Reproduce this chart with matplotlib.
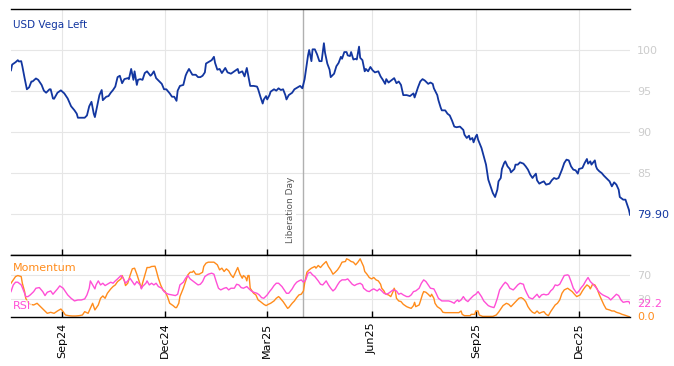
"""USD Vega Left with Momentum / RSI panel."""

import matplotlib
matplotlib.use("Agg")
import matplotlib.pyplot as plt
import matplotlib.dates as mdates
import pandas as pd

START = pd.Timestamp("2024-07-18")
LIBERATION_DAY = pd.Timestamp("2025-04-02")

# day offsets from START
vega_days = [
    0, 1, 4, 6, 7, 9, 10, 12, 14, 16, 18, 19, 22, 24, 27, 29, 31, 34, 35, 37,
    38, 41, 44, 47, 50, 53, 56, 58, 59, 62, 65, 67, 69, 71, 73, 74, 76, 78, 80, 81,
    84, 86, 88, 90, 92, 94, 96, 98, 100, 103, 104, 106, 108, 109, 111, 112, 114, 116, 118, 120,
    123, 124, 126, 128, 131, 133, 135, 137, 140, 142, 144, 146, 147, 149, 152, 154, 155, 157, 160, 163,
    165, 167, 169, 171, 172, 174, 177, 179, 180, 182, 184, 186, 189, 191, 194, 197, 200, 201, 204, 206,
    208, 210, 211, 214, 217, 218, 220, 222, 223, 225, 226, 228, 229, 232, 234, 236, 238, 240, 242, 243,
    245, 248, 250, 253, 255, 257, 259, 262, 263, 265, 266, 268, 270, 272, 274, 276, 277, 279, 281, 282,
    285, 287, 289, 291, 292, 294, 296, 297, 299, 300, 302, 304, 305, 307, 308, 310, 312, 313, 315, 317,
    319, 321, 324, 326, 328, 330, 331, 333, 336, 338, 340, 342, 344, 346, 349, 352, 353, 355, 356, 359,
    361, 363, 365, 368, 370, 372, 373, 376, 377, 379, 380, 383, 385, 387, 389, 391, 393, 396, 399, 400,
    402, 404, 405, 407, 408, 410, 411, 412, 415, 417, 419, 421, 423, 425, 427, 429, 430, 432, 433, 435,
    436, 438, 440, 441, 444, 445, 447, 449, 452, 454, 456, 458, 460, 461, 463, 464, 466, 468, 470, 472,
    475, 477, 479, 481, 483, 486, 488, 490, 492, 494, 496, 498, 500, 501, 504, 506, 508, 509, 511, 512,
    515, 516, 517, 519, 521, 523, 525, 528, 530, 532, 534, 536, 537, 540, 542, 543, 545, 546,
]
vega_vals = [
    97.52, 98.22, 98.51, 98.76, 98.60, 98.64, 98.02, 96.57, 95.21, 95.45, 96.16, 96.16, 96.53, 96.36, 95.74, 95.04, 94.79, 95.21, 95.21, 94.09,
    94.05, 94.79, 95.08, 94.71, 94.09, 93.14, 92.64, 92.23, 91.74, 91.74, 91.74, 92.02, 93.14, 93.68, 92.23, 91.82, 93.14, 94.50, 95.12, 93.88,
    94.30, 94.38, 94.79, 95.12, 95.54, 96.69, 96.86, 95.95, 96.45, 96.57, 96.45, 97.69, 96.36, 97.40, 95.74, 96.36, 96.45, 96.36, 97.19, 97.40,
    96.86, 96.98, 97.40, 96.57, 96.16, 95.87, 95.21, 95.21, 94.71, 94.30, 94.30, 93.80, 95.04, 95.62, 95.74, 96.86, 97.19, 97.69, 96.98, 96.98,
    96.69, 96.69, 96.86, 97.27, 98.35, 98.51, 98.76, 99.17, 98.43, 97.60, 97.69, 97.19, 97.81, 97.27, 97.11, 97.40, 97.69, 97.19, 97.40, 96.78,
    97.81, 96.36, 95.62, 95.62, 95.54, 95.21, 94.30, 93.47, 93.97, 94.38, 93.97, 94.50, 94.92, 95.21, 95.04, 95.33, 95.12, 95.21, 94.50, 93.97,
    94.50, 94.79, 95.21, 95.45, 95.62, 95.33, 96.45, 99.34, 100.00, 98.64, 100.08, 100.08, 99.46, 98.64, 98.64, 100.83, 99.67, 98.35, 97.60, 96.69,
    97.11, 98.02, 98.43, 99.17, 98.93, 99.75, 99.75, 99.34, 99.26, 99.75, 98.84, 98.93, 98.84, 100.41, 99.05, 98.76, 97.40, 97.69, 97.40, 97.93,
    97.52, 97.27, 97.40, 96.78, 96.36, 95.87, 96.45, 96.03, 96.36, 96.57, 95.95, 96.16, 95.74, 94.50, 94.50, 94.38, 94.50, 94.71, 94.21, 95.45,
    96.16, 96.45, 96.28, 95.87, 96.03, 95.87, 95.33, 94.50, 93.88, 92.98, 92.64, 92.64, 92.23, 92.02, 91.40, 90.66, 90.58, 90.66, 90.25, 89.67,
    89.27, 89.55, 89.07, 89.27, 88.74, 89.47, 89.67, 89.07, 88.05, 87.03, 86.02, 84.19, 83.37, 82.56, 82.07, 82.97, 83.98, 84.39, 85.49, 86.22,
    86.42, 85.81, 85.49, 85.08, 85.49, 86.02, 86.02, 86.30, 86.14, 85.81, 85.41, 84.80, 84.39, 84.59, 84.92, 84.11, 83.70, 83.86, 83.98, 83.58,
    83.70, 84.11, 84.39, 84.27, 84.39, 85.41, 86.22, 86.63, 86.54, 85.81, 85.41, 85.33, 84.92, 85.49, 85.61, 86.22, 86.71, 86.14, 86.42, 86.02,
    86.54, 85.81, 85.49, 85.20, 85.00, 84.67, 84.39, 83.98, 83.37, 83.86, 83.58, 82.97, 82.07, 81.75, 81.75, 81.34, 80.53, 79.90,
]

mom_days = [
    0, 2, 4, 6, 9, 10, 12, 13, 15, 17, 20, 23, 26, 29, 32, 35, 38, 41, 44, 46,
    48, 51, 54, 57, 60, 63, 65, 68, 70, 72, 74, 77, 79, 81, 83, 85, 88, 90, 92, 94,
    97, 98, 100, 101, 103, 105, 107, 109, 111, 114, 115, 116, 118, 120, 122, 124, 127, 128, 130, 132,
    134, 136, 138, 140, 143, 145, 146, 148, 149, 152, 154, 156, 158, 160, 161, 163, 166, 169, 170, 172,
    174, 177, 179, 182, 184, 186, 188, 190, 192, 194, 196, 197, 199, 200, 202, 204, 205, 207, 208, 209,
    210, 211, 214, 216, 218, 220, 223, 225, 227, 229, 232, 234, 236, 237, 240, 242, 244, 245, 248, 250,
    252, 254, 256, 258, 259, 261, 263, 265, 268, 269, 271, 273, 275, 278, 280, 282, 284, 286, 288, 290,
    292, 295, 296, 298, 300, 302, 304, 306, 308, 309, 311, 312, 314, 316, 318, 320, 322, 324, 326, 327,
    329, 330, 331, 333, 335, 337, 338, 339, 340, 342, 344, 346, 349, 351, 353, 355, 356, 357, 360, 361,
    363, 364, 366, 368, 370, 371, 373, 374, 376, 379, 381, 383, 386, 389, 392, 395, 397, 398, 400, 402,
    405, 406, 409, 410, 412, 413, 416, 419, 422, 425, 428, 430, 432, 434, 437, 439, 441, 443, 446, 448,
    450, 452, 454, 456, 458, 460, 462, 464, 466, 468, 470, 472, 474, 476, 478, 480, 482, 484, 486, 488,
    491, 493, 495, 497, 499, 502, 504, 506, 508, 510, 511, 513, 515, 517, 519, 521, 523, 525, 528, 530,
    532, 534, 537, 539, 541, 543, 546,
]
mom_vals = [
    56.1, 61.7, 67.2, 68.9, 67.2, 56.1, 42.2, 31.1, 24.4, 21.1, 20.0, 22.8, 17.2, 11.7, 6.1, 7.8, 6.1, 10.0, 13.3, 8.9,
    3.3, 2.2, 1.7, 1.7, 2.2, 3.3, 8.9, 6.1, 14.4, 22.8, 11.7, 20.0, 31.1, 35.0, 31.1, 39.4, 46.7, 50.6, 53.3, 58.9,
    63.3, 68.9, 60.0, 52.2, 56.1, 68.9, 80.0, 81.1, 71.1, 53.3, 47.8, 56.1, 68.9, 82.2, 82.2, 83.9, 84.4, 78.3, 64.4, 53.3,
    45.0, 42.2, 33.9, 22.8, 18.9, 15.6, 15.6, 22.8, 33.9, 47.8, 58.9, 70.0, 74.4, 74.4, 76.7, 71.1, 71.1, 74.4, 83.9, 89.4,
    91.1, 91.1, 91.1, 86.7, 78.3, 81.1, 75.6, 80.0, 76.7, 70.0, 65.6, 70.0, 78.3, 82.2, 71.1, 64.4, 68.9, 65.6, 60.0, 68.9,
    68.9, 47.8, 39.4, 36.7, 28.3, 25.6, 21.1, 18.9, 21.1, 22.8, 26.7, 31.1, 33.9, 32.2, 25.6, 20.0, 14.4, 15.6, 22.8, 26.7,
    32.2, 36.7, 37.8, 43.3, 56.1, 74.4, 78.3, 81.1, 83.9, 81.1, 85.6, 82.2, 86.7, 92.2, 83.9, 78.3, 71.1, 74.4, 78.3, 83.9,
    91.1, 92.2, 96.7, 95.0, 92.2, 91.1, 86.7, 91.1, 96.7, 92.2, 83.9, 75.6, 71.1, 65.6, 63.3, 65.6, 61.7, 60.0, 54.4, 47.8,
    43.3, 39.4, 37.8, 36.7, 33.9, 42.2, 47.8, 43.3, 31.1, 26.7, 25.6, 21.1, 17.2, 15.6, 14.4, 18.9, 24.4, 17.2, 20.0, 25.6,
    37.8, 42.2, 41.1, 37.8, 33.9, 37.8, 31.1, 22.8, 17.2, 13.3, 7.8, 7.2, 7.2, 7.2, 7.2, 7.2, 10.0, 4.4, 2.2, 2.2,
    2.2, 4.4, 4.4, 10.0, 10.0, 3.3, 1.0, 1.0, 1.0, 1.0, 3.3, 7.8, 13.3, 18.9, 22.8, 21.1, 17.2, 21.1, 26.7, 31.1,
    32.2, 30.0, 25.6, 17.2, 11.7, 7.8, 6.1, 10.0, 6.1, 7.8, 8.9, 4.4, 2.2, 8.9, 14.4, 20.0, 22.8, 28.3, 39.4, 45.0,
    47.8, 45.0, 42.2, 37.8, 33.9, 36.7, 43.3, 48.9, 53.3, 50.6, 46.7, 54.4, 53.3, 46.7, 36.7, 28.3, 20.0, 13.3, 11.7, 10.0,
    10.0, 7.8, 6.1, 4.4, 3.3, 2.0, 0.0,
]

rsi_days = [
    0, 2, 4, 6, 9, 10, 12, 13, 15, 17, 20, 22, 25, 28, 30, 32, 35, 37, 39, 41,
    43, 46, 48, 50, 53, 56, 59, 62, 65, 67, 69, 70, 72, 74, 75, 77, 79, 81, 83, 85,
    88, 90, 92, 94, 97, 99, 101, 103, 105, 107, 109, 111, 114, 115, 116, 119, 120, 122, 124, 126,
    128, 130, 133, 135, 137, 139, 142, 145, 147, 149, 152, 154, 156, 158, 161, 163, 165, 167, 169, 171,
    174, 177, 179, 181, 183, 185, 188, 190, 192, 194, 197, 199, 201, 203, 205, 208, 210, 212, 214, 217,
    219, 221, 223, 226, 228, 230, 232, 234, 236, 239, 241, 243, 245, 248, 250, 252, 254, 256, 258, 260,
    262, 264, 266, 268, 271, 273, 275, 277, 278, 280, 282, 284, 286, 288, 290, 292, 295, 297, 299, 301,
    303, 305, 308, 310, 311, 314, 316, 318, 320, 323, 325, 327, 329, 331, 333, 335, 337, 340, 342, 344,
    346, 349, 351, 353, 355, 357, 360, 362, 364, 366, 368, 370, 373, 375, 377, 380, 383, 386, 388, 391,
    392, 394, 395, 397, 399, 401, 403, 405, 408, 410, 412, 413, 415, 417, 419, 421, 423, 426, 427, 429,
    431, 434, 436, 438, 440, 443, 445, 447, 449, 452, 453, 455, 457, 460, 462, 464, 466, 468, 470, 472,
    474, 476, 478, 480, 482, 484, 486, 488, 491, 492, 494, 496, 499, 501, 503, 505, 507, 509, 511, 514,
    516, 518, 520, 522, 525, 527, 529, 531, 534, 536, 538, 540, 543, 545, 546,
]
rsi_vals = [
    42.2, 53.3, 57.8, 57.8, 53.3, 48.9, 39.4, 33.9, 33.9, 36.7, 42.2, 47.8, 48.9, 42.2, 35.6, 41.1, 43.3, 37.8, 42.2, 46.7,
    51.7, 47.8, 42.2, 36.7, 31.1, 26.7, 28.3, 28.3, 30.0, 36.7, 47.8, 60.0, 53.3, 46.7, 53.3, 60.0, 53.3, 56.1, 52.2, 54.4,
    57.8, 56.1, 60.0, 63.3, 68.9, 64.4, 56.1, 60.0, 64.4, 58.9, 53.3, 58.9, 53.3, 46.7, 50.6, 56.1, 60.0, 53.3, 56.1, 53.3,
    56.1, 50.6, 47.8, 42.2, 39.4, 37.8, 36.7, 35.6, 37.8, 53.3, 57.8, 64.4, 68.9, 63.3, 58.9, 56.1, 53.3, 54.4, 58.9, 67.2,
    71.1, 72.8, 71.1, 58.9, 47.8, 45.0, 47.8, 48.9, 45.0, 47.8, 47.8, 54.4, 53.3, 48.9, 47.8, 50.6, 46.7, 43.3, 41.1, 39.4,
    36.7, 32.2, 31.1, 36.7, 42.2, 46.7, 52.2, 56.1, 56.1, 50.6, 45.0, 39.4, 39.4, 46.7, 53.3, 57.8, 60.0, 61.7, 57.8, 61.7,
    72.8, 74.4, 70.0, 67.2, 60.0, 54.4, 53.3, 57.8, 60.0, 53.3, 47.8, 43.3, 46.7, 53.3, 58.9, 61.7, 61.7, 63.3, 58.9, 54.4,
    52.2, 54.4, 56.1, 53.3, 47.8, 43.3, 42.2, 45.0, 46.7, 43.3, 46.7, 43.3, 39.4, 37.8, 39.4, 42.2, 45.0, 43.3, 37.8, 39.4,
    36.7, 33.9, 33.9, 36.7, 42.2, 43.3, 47.8, 56.1, 61.7, 58.9, 53.3, 47.8, 46.7, 39.4, 31.1, 26.7, 26.7, 26.7, 25.6, 22.8,
    25.6, 28.3, 25.6, 28.3, 33.9, 28.3, 25.6, 30.0, 35.6, 37.8, 42.2, 39.4, 33.9, 26.7, 22.8, 18.9, 17.2, 15.6, 20.0, 31.1,
    45.0, 53.3, 57.8, 54.4, 47.8, 45.0, 48.9, 53.3, 56.1, 54.4, 47.8, 39.4, 32.2, 30.0, 33.9, 37.8, 32.2, 36.7, 37.8, 36.7,
    37.8, 43.3, 46.7, 53.3, 52.2, 54.4, 61.7, 68.9, 70.0, 68.9, 58.9, 47.8, 39.4, 43.3, 48.9, 53.3, 60.0, 65.6, 58.9, 53.3,
    48.9, 43.3, 39.4, 36.7, 33.9, 32.2, 28.3, 32.2, 37.8, 35.6, 28.3, 24.4, 25.6, 25.6, 22.2,
]

NAVY = "#1236a0"
ORANGE = "#ff8c1c"
PINK = "#ff4fd6"
GRID = "#e6e6e6"
TICKGRAY = "#cccccc"


def to_dates(days):
    return START + pd.to_timedelta(days, unit="D")


vega_x = to_dates(vega_days)
mom_x = to_dates(mom_days)
rsi_x = to_dates(rsi_days)

fig = plt.figure(figsize=(6.74, 3.66), dpi=100)
ax = fig.add_axes([11 / 674, 1 - 255 / 366, 619 / 674, 246 / 366])
ax2 = fig.add_axes([11 / 674, 1 - 317 / 366, 619 / 674, 62 / 366], sharex=ax)

ax.plot(vega_x, vega_vals, color=NAVY, lw=1.3)
ax2.plot(mom_x, mom_vals, color=ORANGE, lw=1.0)
ax2.plot(rsi_x, rsi_vals, color=PINK, lw=1.0)

for a in (ax, ax2):
    a.axvline(LIBERATION_DAY, color="#b0b0b0", lw=1.0, zorder=1)
    a.set_xlim(vega_x[0], vega_x[-1])
    a.xaxis.set_major_locator(mdates.MonthLocator(bymonth=[3, 6, 9, 12]))
    a.xaxis.set_major_formatter(mdates.DateFormatter("%b%y"))
    a.grid(True, color=GRID, lw=0.8)
    a.set_axisbelow(True)
    a.yaxis.tick_right()
    a.tick_params(axis="y", length=0, pad=5, labelsize=8, labelcolor=TICKGRAY)
    a.tick_params(axis="x", direction="in", length=4, width=1, color="black")
    for side in ("left", "right"):
        a.spines[side].set_visible(False)
    for side in ("top", "bottom"):
        a.spines[side].set_color("black")
        a.spines[side].set_linewidth(1.0)

ax.set_ylim(75, 105)
ax.set_yticks([80, 85, 90, 95, 100])
ax.set_yticklabels(["", "85", "90", "95", "100"])
ax.tick_params(axis="x", labelbottom=False)

ax2.set_ylim(0, 103)
ax2.set_yticks([30, 70])
ax2.tick_params(axis="x", labelsize=8, labelrotation=90, pad=4)

ax.text(0.003, 0.935, "USD Vega Left", transform=ax.transAxes, color=NAVY,
        fontsize=7.5, va="center", ha="left")
ax2.text(0.003, 0.79, "Momentum", transform=ax2.transAxes, color=ORANGE,
         fontsize=8, va="center", ha="left",
         bbox=dict(facecolor="white", edgecolor="none", alpha=0.6, pad=0.5))
ax2.text(0.003, 0.18, "RSI", transform=ax2.transAxes, color=PINK,
         fontsize=8, va="center", ha="left",
         bbox=dict(facecolor="white", edgecolor="none", alpha=0.6, pad=0.5))

ax.annotate("Liberation Day", xy=(LIBERATION_DAY, 0.05),
            xycoords=("data", "axes fraction"), xytext=(-9, 0),
            textcoords="offset points", rotation=90, ha="center", va="bottom",
            fontsize=6.5, color="#555555",
            bbox=dict(facecolor="white", edgecolor="none", pad=0.5))

# last-value labels on the right
ax.annotate(f"{vega_vals[-1]:.2f}", xy=(1, vega_vals[-1]),
            xycoords=("axes fraction", "data"), xytext=(5, 0),
            textcoords="offset points", va="center", fontsize=8, color=NAVY)
ax2.annotate(f"{rsi_vals[-1]:.1f}", xy=(1, rsi_vals[-1]),
             xycoords=("axes fraction", "data"), xytext=(5, 0),
             textcoords="offset points", va="center", fontsize=8, color=PINK)
ax2.annotate(f"{mom_vals[-1]:.1f}", xy=(1, mom_vals[-1]),
             xycoords=("axes fraction", "data"), xytext=(5, 0),
             textcoords="offset points", va="center", fontsize=8, color=ORANGE,
             annotation_clip=False)

fig.savefig("out.png", dpi=100)
plt.close(fig)
